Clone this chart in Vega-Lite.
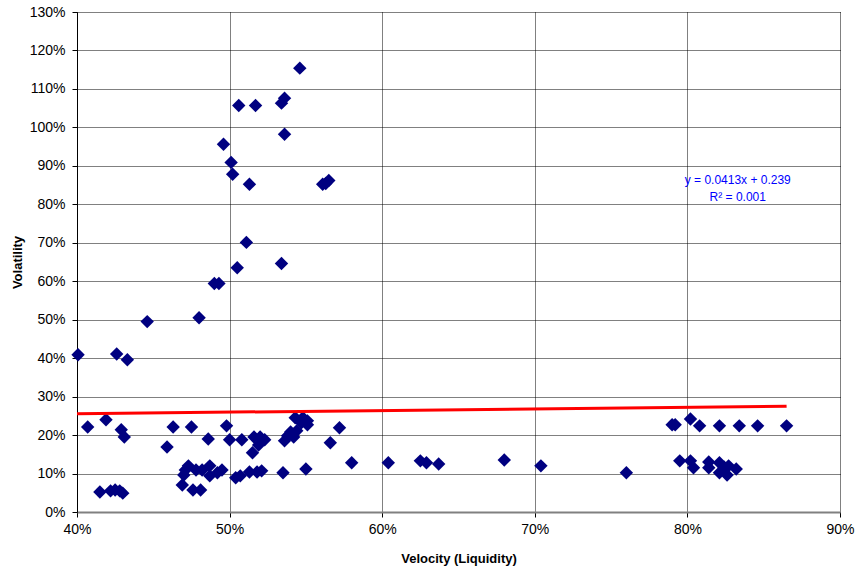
{
  "$schema": "https://vega.github.io/schema/vega-lite/v6.json",
  "width": 763,
  "height": 500,
  "autosize": {"type": "none"},
  "padding": {"left": 77, "top": 12, "right": 17, "bottom": 59},
  "background": "white",
  "config": {
    "view": {"stroke": null},
    "font": "Liberation Sans",
    "axis": {
      "labelFont": "Liberation Sans",
      "labelFontSize": 14,
      "labelColor": "#000",
      "labelOverlap": false,
      "labelFlush": false,
      "titleFont": "Liberation Sans",
      "titleFontSize": 13,
      "titleFontWeight": "bold",
      "titleColor": "#000",
      "gridColor": "#000",
      "gridDash": [1, 1],
      "gridOpacity": 1,
      "tickSize": 5
    }
  },
  "datasets": {
    "pts": [
      {"v": 0.4007, "vol": 0.409}, {"v": 0.407, "vol": 0.221}, {"v": 0.415, "vol": 0.052},
      {"v": 0.419, "vol": 0.240}, {"v": 0.422, "vol": 0.055}, {"v": 0.425, "vol": 0.057},
      {"v": 0.426, "vol": 0.411}, {"v": 0.428, "vol": 0.055}, {"v": 0.429, "vol": 0.214},
      {"v": 0.431, "vol": 0.195}, {"v": 0.430, "vol": 0.049}, {"v": 0.433, "vol": 0.396},
      {"v": 0.446, "vol": 0.495}, {"v": 0.459, "vol": 0.169}, {"v": 0.463, "vol": 0.221},
      {"v": 0.469, "vol": 0.070}, {"v": 0.470, "vol": 0.096}, {"v": 0.471, "vol": 0.109},
      {"v": 0.473, "vol": 0.120}, {"v": 0.475, "vol": 0.221}, {"v": 0.476, "vol": 0.057},
      {"v": 0.478, "vol": 0.109}, {"v": 0.480, "vol": 0.505}, {"v": 0.481, "vol": 0.057},
      {"v": 0.482, "vol": 0.109}, {"v": 0.486, "vol": 0.190}, {"v": 0.487, "vol": 0.120},
      {"v": 0.487, "vol": 0.094}, {"v": 0.490, "vol": 0.594}, {"v": 0.492, "vol": 0.102},
      {"v": 0.493, "vol": 0.594}, {"v": 0.495, "vol": 0.109}, {"v": 0.496, "vol": 0.956},
      {"v": 0.498, "vol": 0.224}, {"v": 0.500, "vol": 0.188}, {"v": 0.501, "vol": 0.909},
      {"v": 0.502, "vol": 0.878}, {"v": 0.504, "vol": 0.089}, {"v": 0.505, "vol": 0.635},
      {"v": 0.506, "vol": 1.057}, {"v": 0.507, "vol": 0.094}, {"v": 0.508, "vol": 0.188},
      {"v": 0.511, "vol": 0.701}, {"v": 0.513, "vol": 0.104}, {"v": 0.513, "vol": 0.852},
      {"v": 0.515, "vol": 0.154}, {"v": 0.516, "vol": 0.195}, {"v": 0.517, "vol": 1.057},
      {"v": 0.518, "vol": 0.104}, {"v": 0.519, "vol": 0.174}, {"v": 0.520, "vol": 0.195},
      {"v": 0.521, "vol": 0.107}, {"v": 0.523, "vol": 0.188}, {"v": 0.534, "vol": 1.063},
      {"v": 0.534, "vol": 0.646}, {"v": 0.536, "vol": 1.076}, {"v": 0.536, "vol": 0.982},
      {"v": 0.535, "vol": 0.102}, {"v": 0.536, "vol": 0.185}, {"v": 0.538, "vol": 0.198},
      {"v": 0.540, "vol": 0.208}, {"v": 0.542, "vol": 0.195}, {"v": 0.544, "vol": 0.211},
      {"v": 0.543, "vol": 0.245}, {"v": 0.546, "vol": 1.154}, {"v": 0.547, "vol": 0.232},
      {"v": 0.548, "vol": 0.245}, {"v": 0.550, "vol": 0.112}, {"v": 0.551, "vol": 0.227},
      {"v": 0.551, "vol": 0.237}, {"v": 0.561, "vol": 0.852}, {"v": 0.563, "vol": 0.854},
      {"v": 0.565, "vol": 0.862}, {"v": 0.566, "vol": 0.180}, {"v": 0.572, "vol": 0.219},
      {"v": 0.580, "vol": 0.128}, {"v": 0.604, "vol": 0.128}, {"v": 0.625, "vol": 0.133},
      {"v": 0.629, "vol": 0.128}, {"v": 0.637, "vol": 0.125}, {"v": 0.680, "vol": 0.135},
      {"v": 0.704, "vol": 0.120}, {"v": 0.760, "vol": 0.102}, {"v": 0.790, "vol": 0.227},
      {"v": 0.792, "vol": 0.227}, {"v": 0.795, "vol": 0.133}, {"v": 0.802, "vol": 0.242},
      {"v": 0.802, "vol": 0.133}, {"v": 0.804, "vol": 0.115}, {"v": 0.808, "vol": 0.224},
      {"v": 0.814, "vol": 0.130}, {"v": 0.814, "vol": 0.115}, {"v": 0.821, "vol": 0.224},
      {"v": 0.821, "vol": 0.102}, {"v": 0.821, "vol": 0.128}, {"v": 0.824, "vol": 0.117},
      {"v": 0.826, "vol": 0.096}, {"v": 0.827, "vol": 0.120}, {"v": 0.832, "vol": 0.112},
      {"v": 0.834, "vol": 0.224}, {"v": 0.846, "vol": 0.224}, {"v": 0.865, "vol": 0.224}
    ],
    "trend": [
      {"v": 0.40, "vol": 0.2555},
      {"v": 0.865, "vol": 0.2747}
    ],
    "notes": [
      {"v": 0.833, "vol": 0.862, "t": "y = 0.0413x + 0.239"},
      {"v": 0.833, "vol": 0.820, "t": "R² = 0.001"}
    ]
  },
  "encoding": {
    "x": {
      "field": "v", "type": "quantitative",
      "scale": {"domain": [0.4, 0.9], "nice": false, "zero": false},
      "axis": {
        "title": "Velocity (Liquidity)", "format": ".0%", "values": [0.4, 0.5, 0.6, 0.7, 0.8, 0.9],
        "domainColor": "#808080", "domainWidth": 2, "tickColor": "#000",
        "labelPadding": 5, "titlePadding": 16
      }
    },
    "y": {
      "field": "vol", "type": "quantitative",
      "scale": {"domain": [0, 1.3], "nice": false},
      "axis": {
        "title": "Volatility", "format": ".0%",
        "values": [0, 0.1, 0.2, 0.3, 0.4, 0.5, 0.6, 0.7, 0.8, 0.9, 1.0, 1.1, 1.2, 1.3],
        "domainColor": "#000", "domainWidth": 1, "tickColor": "#000",
        "labelPadding": 7, "titlePadding": 5
      }
    }
  },
  "layer": [
    {
      "data": {"name": "pts"},
      "mark": {"type": "point", "shape": "diamond", "filled": true, "color": "#000080", "opacity": 1, "size": 180}
    },
    {
      "data": {"name": "trend"},
      "mark": {"type": "line", "color": "#ff0000", "strokeWidth": 3}
    },
    {
      "data": {"name": "notes"},
      "mark": {"type": "text", "color": "#0000ff", "fontSize": 12, "align": "center", "baseline": "middle", "font": "Liberation Sans"},
      "encoding": {
        "text": {"field": "t"}
      }
    }
  ]
}
